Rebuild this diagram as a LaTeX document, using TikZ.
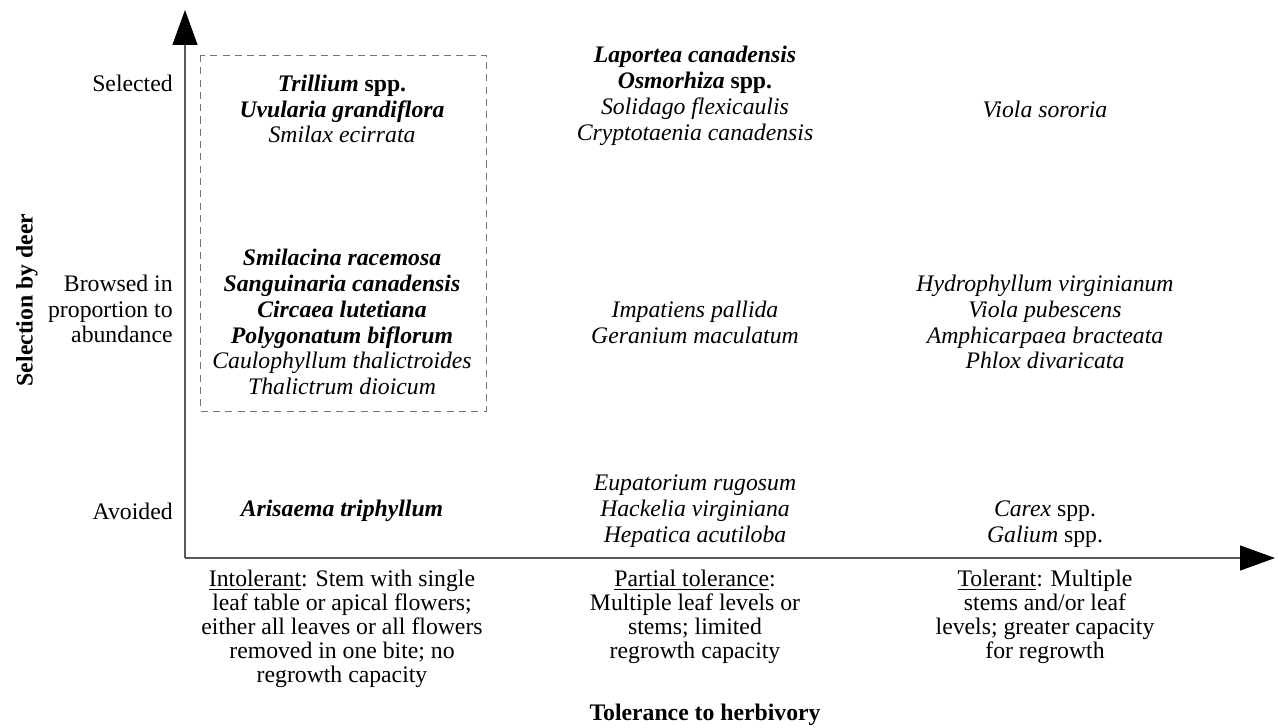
\documentclass[tikz,border=0pt]{standalone}
\usepackage{fontspec}
\setmainfont{Liberation Serif}
\usetikzlibrary{arrows.meta}
\tikzstyle{axisline} = [draw, black!65, line width=0.7pt, -{Triangle[length=7mm, width=5mm, black]}]
\tikzstyle{plant} = [align=center, inner sep=0pt, font=\fontsize{13.5}{14.7}\selectfont\itshape]
\tikzstyle{rowlabel} = [align=right, anchor=east, inner sep=0pt, font=\fontsize{13.5}{14.7}\selectfont]
\tikzstyle{trait} = [align=center, inner sep=0pt, font=\fontsize{13.5}{13.6}\selectfont]

\begin{document}
\begin{tikzpicture}[x=0.02cm, y=-0.02cm]
    \useasboundingbox (0,0) rectangle (1278,727);

    % axes
    \coordinate (origin) at (185,558);
    \coordinate (ytop) at (185,10);
    \coordinate (xend) at (1275,558);
    \path [axisline] (origin) -- (ytop);
    \path [axisline] (origin) -- (xend);

    % intolerant species
    \draw[black!55, dash pattern=on 4pt off 3pt, line width=0.5pt] (200,55) rectangle (486,411);

    \node[rotate=90, inner sep=0pt, font=\fontsize{13.5}{14}\selectfont\bfseries] (ylab) at (27,300) {Selection by deer};
    \node[rowlabel] (selected) at (173,83) {Selected};
    \node[rowlabel] (browsed) at (173,309) {Browsed in\\proportion to\\abundance};
    \node[rowlabel] (avoided) at (173,511) {Avoided};

    \node[plant] (intsel) at (342,109) {\textbf{Trillium \textup{spp.}}\\\textbf{Uvularia grandiflora}\\Smilax ecirrata};
    \node[plant] (intprop) at (342,322) {\textbf{Smilacina racemosa}\\\textbf{Sanguinaria canadensis}\\\textbf{Circaea lutetiana}\\\textbf{Polygonatum biflorum}\\Caulophyllum thalictroides\\Thalictrum dioicum};
    \node[plant] (intavo) at (342,511) {\textbf{Arisaema triphyllum}};

    \node[plant] (partsel) at (695,96) {\textbf{Laportea canadensis}\\\textbf{Osmorhiza \textup{spp.}}\\Solidago flexicaulis\\Cryptotaenia canadensis};
    \node[plant] (partprop) at (695,322) {Impatiens pallida\\Geranium maculatum};
    \node[plant] (partavo) at (695,511) {Eupatorium rugosum\\Hackelia virginiana\\Hepatica acutiloba};

    \node[plant] (tolsel) at (1045,109) {Viola sororia};
    \node[plant] (tolprop) at (1045,322) {Hydrophyllum virginianum\\Viola pubescens\\Amphicarpaea bracteata\\Phlox divaricata};
    \node[plant] (tolavo) at (1045,524) {Carex \textup{spp.}\\Galium \textup{spp.}};

    % tolerance classes
    \node[trait] (intol) at (342,629) {\underline{Intolerant}: Stem with single\\leaf table or apical flowers;\\either all leaves or all flowers\\removed in one bite; no\\regrowth capacity};
    \node[trait] (partial) at (695,617) {\underline{Partial tolerance}:\\Multiple leaf levels or\\stems; limited\\regrowth capacity};
    \node[trait] (tolerant) at (1045,617) {\underline{Tolerant}: Multiple\\stems and/or leaf\\levels; greater capacity\\for regrowth};
    \node[inner sep=0pt, font=\fontsize{13.5}{14}\selectfont\bfseries] (xlab) at (705,715) {Tolerance to herbivory};
\end{tikzpicture}
\end{document}
